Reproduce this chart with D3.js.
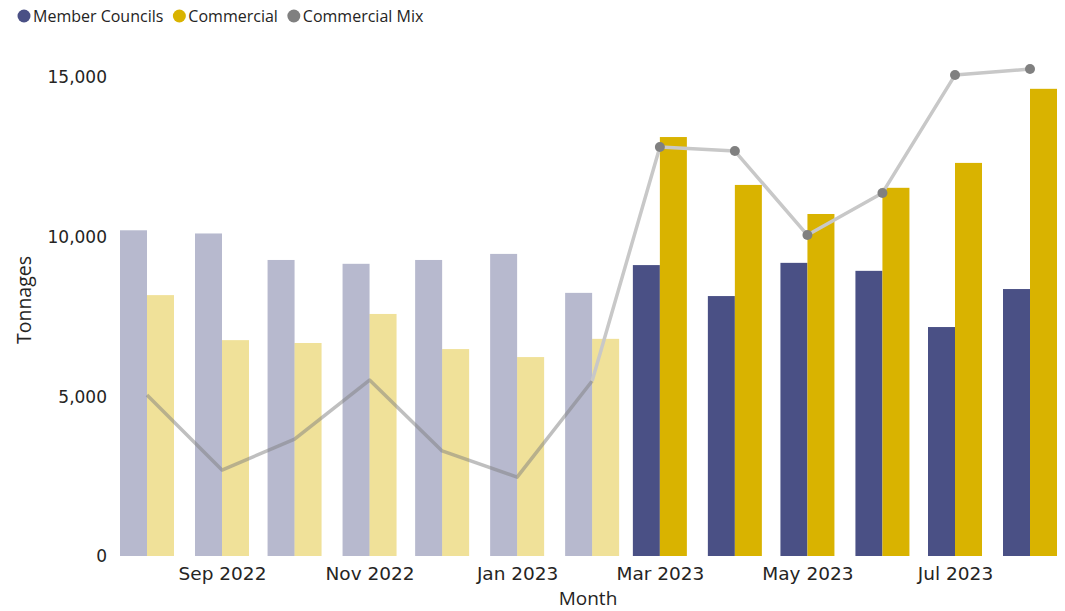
<!DOCTYPE html>
<html><head><meta charset="utf-8">
<script src="https://cdn.jsdelivr.net/npm/d3@7"></script>
<style>body{margin:0;background:#fff}svg{display:block}</style>
</head><body><svg id="c" width="1065" height="611"></svg>
<script>
const months = ["2022-08","2022-09","2022-10","2022-11","2022-12","2023-01","2023-02","2023-03","2023-04","2023-05","2023-06","2023-07","2023-08"];
const memberCouncils = [10200,10100,9270,9150,9270,9460,8240,9110,8140,9180,8930,7170,8360];
const commercial = [8170,6760,6670,7580,6480,6230,6800,13120,11620,10710,11530,12310,14630];
const commercialMix = [5040,2690,3660,5510,3290,2470,5480,12810,12680,10050,11370,15060,15250];
const highlighted = [false,false,false,false,false,false,false,true,true,true,true,true,true];
const xTickLabels = ["Sep 2022","Nov 2022","Jan 2023","Mar 2023","May 2023","Jul 2023"];
const yTicks = [0,5000,10000,15000];

const parse = d3.timeParse("%Y-%m");
const tickParse = d3.timeParse("%b %Y");
const dates = months.map(parse);

const svg = d3.select("#c");
const uiFont = "'Segoe UI','Open Sans',sans-serif";
const axFont = "'DejaVu Sans',Verdana,sans-serif";

const x = d3.scaleTime().domain([dates[0], dates[dates.length-1]]).range([147, 1030]);
const y = d3.scaleLinear().domain([0, 15000]).range([556, 77]);
const barW = 27;

const colM = "#4a5085", colC = "#d9b300";
const g = svg.append("g");

// bars
dates.forEach((d,i)=>{
  const op = highlighted[i] ? 1 : 0.4;
  g.append("rect").attr("x", x(d)-barW).attr("width", barW)
    .attr("y", y(memberCouncils[i])).attr("height", y(0)-y(memberCouncils[i]))
    .attr("fill", colM).attr("fill-opacity", op);
  g.append("rect").attr("x", x(d)).attr("width", barW)
    .attr("y", y(commercial[i])).attr("height", y(0)-y(commercial[i]))
    .attr("fill", colC).attr("fill-opacity", op);
});

// line
const line = d3.line().x(d=>x(d.date)).y(d=>y(d.v));
const pts = dates.map((d,i)=>({date:d, v:commercialMix[i], h:highlighted[i]}));
const firstH = highlighted.indexOf(true);
g.append("path").datum(pts.slice(0, firstH))
  .attr("d", line).attr("fill","none").attr("stroke","#808080").attr("stroke-opacity",0.5)
  .attr("stroke-width",3.5).attr("stroke-linejoin","round");
g.append("path").datum(pts.slice(firstH-1))
  .attr("d", line).attr("fill","none").attr("stroke","#c8c8c8")
  .attr("stroke-width",3.5).attr("stroke-linejoin","round");
g.selectAll("circle.pt").data(pts.filter(p=>p.h)).join("circle")
  .attr("cx", d=>x(d.date)).attr("cy", d=>y(d.v)).attr("r",5).attr("fill","#808080");

// y axis
const yAxis = d3.axisLeft(y).tickValues(yTicks).tickFormat(d3.format(",")).tickSize(0).tickPadding(0);
const ya = svg.append("g").attr("transform","translate(107,0)").call(yAxis);
ya.select(".domain").remove();
ya.selectAll("text").attr("font-family", axFont).attr("font-size", 17).attr("fill","#252423").attr("dy","0.35em");

// x axis
const xAxis = d3.axisBottom(x).tickValues(xTickLabels.map(tickParse)).tickFormat(d3.timeFormat("%b %Y")).tickSize(0).tickPadding(0);
const xa = svg.append("g").attr("transform","translate(0,561)").call(xAxis);
xa.select(".domain").remove();
xa.selectAll("text").attr("font-family", axFont).attr("font-size", 18.5).attr("fill","#252423").attr("dy","1.0em");

// axis titles
svg.append("text").attr("x",588).attr("y",605).attr("text-anchor","middle")
  .attr("font-family", uiFont).attr("font-size",19).attr("fill","#252423").text("Month");
svg.append("text").attr("transform","translate(31,300) rotate(-90)").attr("text-anchor","middle")
  .attr("font-family", uiFont).attr("font-size",19.5).attr("fill","#252423").text("Tonnages");

// legend
const legend = [{name:"Member Councils", c:colM},{name:"Commercial", c:colC},{name:"Commercial Mix", c:"#808080"}];
let lx = 18;
legend.forEach(l=>{
  svg.append("circle").attr("cx", lx+6).attr("cy",16).attr("r",6.5).attr("fill", l.c);
  const t = svg.append("text").attr("x", lx+15).attr("y",22).attr("font-family", uiFont)
    .attr("font-size",16).attr("fill","#252423").text(l.name);
  lx += 15 + t.node().getComputedTextLength() + 10;
});
</script></body></html>
